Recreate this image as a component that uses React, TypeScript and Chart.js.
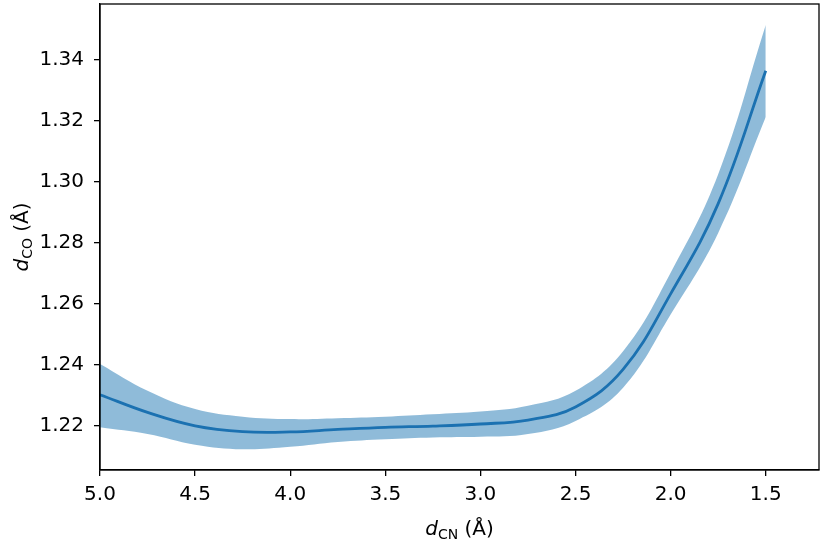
import React, { useEffect, useRef } from "react";
import { Chart, registerables } from "chart.js";

Chart.register(...registerables);

const dCN = [5.0, 4.75, 4.5, 4.25, 4.0, 3.75, 3.5, 3.25, 3.0, 2.75, 2.5, 2.25, 2.0, 1.75, 1.5];
const dCOmean = [1.2302, 1.2244, 1.22, 1.2181, 1.218, 1.2188, 1.2195, 1.2199, 1.2206, 1.2219, 1.2262, 1.2385, 1.2633, 1.2929, 1.3365];
const dCOupper = [1.2403, 1.2315, 1.2255, 1.223, 1.2222, 1.2225, 1.223, 1.2238, 1.2247, 1.2266, 1.2315, 1.2445, 1.2702, 1.3025, 1.3515];
const dCOlower = [1.2195, 1.2173, 1.2138, 1.2123, 1.2131, 1.2147, 1.2156, 1.2162, 1.2164, 1.2173, 1.2216, 1.2325, 1.2565, 1.2833, 1.3213];

const xTicks = [5.0, 4.5, 4.0, 3.5, 3.0, 2.5, 2.0, 1.5];
const yTicks = [1.22, 1.24, 1.26, 1.28, 1.3, 1.32, 1.34];

const FONT = "'DejaVu Sans', sans-serif";

function drawMathLabel(ctx: CanvasRenderingContext2D, sub: string, cx: number, baseline: number) {
  const big = 20;
  const small = 14;
  ctx.font = `oblique ${big}px ${FONT}`;
  const wD = ctx.measureText("d").width;
  ctx.font = `${small}px ${FONT}`;
  const wS = ctx.measureText(sub).width;
  ctx.font = `${big}px ${FONT}`;
  const wR = ctx.measureText(" (Å)").width;
  const total = wD + wS + wR;
  let x = cx - total / 2;
  ctx.textBaseline = "alphabetic";
  ctx.textAlign = "left";
  ctx.fillStyle = "#000";
  ctx.font = `oblique ${big}px ${FONT}`;
  ctx.fillText("d", x, baseline);
  x += wD;
  ctx.font = `${small}px ${FONT}`;
  ctx.fillText(sub, x, baseline + 4);
  x += wS;
  ctx.font = `${big}px ${FONT}`;
  ctx.fillText(" (Å)", x, baseline);
}

const framePlugin = {
  id: "frameAndTitles",
  afterDraw(chart: any) {
    const { ctx, chartArea } = chart;
    ctx.save();
    ctx.strokeStyle = "#000";
    ctx.lineWidth = 1.3;
    ctx.strokeRect(chartArea.left, chartArea.top, chartArea.right - chartArea.left, chartArea.bottom - chartArea.top);
    const cx = (chartArea.left + chartArea.right) / 2;
    drawMathLabel(ctx, "CN", cx, 535);
    ctx.translate(28, (chartArea.top + chartArea.bottom) / 2);
    ctx.rotate(-Math.PI / 2);
    drawMathLabel(ctx, "CO", 0, 0);
    ctx.restore();
  },
};

export default function App() {
  const ref = useRef<HTMLCanvasElement | null>(null);
  useEffect(() => {
    document.body.style.margin = "0";
    const canvas = ref.current;
    if (!canvas) return;
    const toPts = (ys: number[]) => dCN.map((x, i) => ({ x, y: ys[i] }));
    const chart = new Chart(canvas, {
      type: "line",
      data: {
        datasets: [
          {
            data: toPts(dCOmean),
            borderColor: "#1b71b1",
            borderWidth: 2.8,
            pointRadius: 0,
            fill: false,
            tension: 0.4,
          },
          {
            data: toPts(dCOupper),
            borderWidth: 0,
            borderColor: "rgba(0,0,0,0)",
            pointRadius: 0,
            backgroundColor: "rgba(31,119,180,0.5)",
            fill: "+1",
            tension: 0.4,
          },
          {
            data: toPts(dCOlower),
            borderWidth: 0,
            borderColor: "rgba(0,0,0,0)",
            pointRadius: 0,
            fill: false,
            tension: 0.4,
          },
        ],
      },
      options: {
        animation: false,
        responsive: false,
        devicePixelRatio: 1,
        layout: { padding: { top: 4, right: 6, left: 0, bottom: 0 } },
        plugins: { legend: { display: false }, tooltip: { enabled: false } },
        scales: {
          x: {
            type: "linear",
            reverse: true,
            min: 1.22,
            max: 5.0,
            afterBuildTicks: (s: any) => {
              s.ticks = xTicks.map((v) => ({ value: v }));
            },
            afterFit: (s: any) => {
              s.height = 73;
              s.paddingLeft = 0;
              s.paddingRight = 0;
            },
            ticks: {
              callback: (v: any) => Number(v).toFixed(1),
              font: { family: FONT, size: 20 },
              color: "#000",
              padding: 7,
              maxRotation: 0,
              autoSkip: false,
            },
            grid: { drawOnChartArea: false, color: "#000", tickLength: 6, lineWidth: 1.3 },
            border: { display: true, color: "#000", width: 1.3 },
          },
          y: {
            type: "linear",
            min: 1.2055,
            max: 1.3584,
            afterBuildTicks: (s: any) => {
              s.ticks = yTicks.map((v) => ({ value: v }));
            },
            afterFit: (s: any) => {
              s.width = 100;
              s.paddingTop = 0;
              s.paddingBottom = 0;
            },
            ticks: {
              callback: (v: any) => Number(v).toFixed(2),
              font: { family: FONT, size: 20 },
              color: "#000",
              padding: 10,
              autoSkip: false,
            },
            grid: { drawOnChartArea: false, color: "#000", tickLength: 6, lineWidth: 1.3 },
            border: { display: true, color: "#000", width: 1.3 },
          },
        },
      },
      plugins: [framePlugin],
    } as any);
    return () => chart.destroy();
  }, []);
  return <canvas ref={ref} width={825} height={543} style={{ display: "block", width: 825, height: 543 }} />;
}
